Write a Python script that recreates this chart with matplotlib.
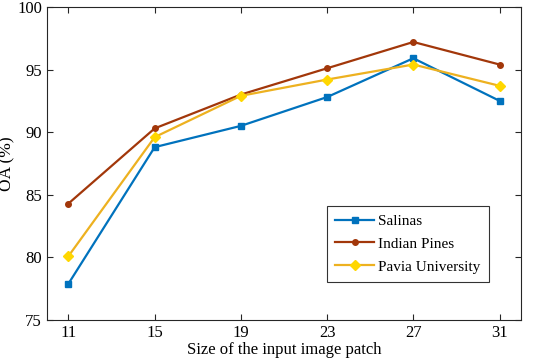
import numpy as np
import matplotlib
matplotlib.use('Agg')
import matplotlib.pyplot as plt

plt.rcParams['font.family'] = ['Liberation Serif', 'DejaVu Serif']

# patch sizes and overall accuracy (%)
patch = [11, 15, 19, 23, 27, 31]
salinas = [77.9, 88.8, 90.5, 92.8, 95.9, 92.5]
indian_pines = [84.3, 90.3, 93.0, 95.1, 97.2, 95.4]
pavia = [80.1, 89.6, 92.9, 94.2, 95.4, 93.7]
yticks = [75, 80, 85, 90, 95, 100]

fig = plt.figure(figsize=(5.52, 3.64), dpi=100)
ax = fig.add_axes([0.085, 0.121, 0.859, 0.86])

ax.plot(patch, salinas, color='#0072BD', lw=1.6, marker='s', ms=5,
        label='Salinas')
ax.plot(patch, indian_pines, color='#A2370A', lw=1.6, marker='o', ms=4,
        label='Indian Pines')
ax.plot(patch, pavia, color='#EDB120', lw=1.6, marker='D', ms=5.5,
        mfc='#FFD700', mec='#FFD700', label='Pavia University')

ax.set_xlim(10, 32)
ax.set_ylim(75, 100)
ax.set_xticks(patch)
ax.set_yticks(yticks)
ax.tick_params(direction='in', top=True, right=True, labelsize=12,
               length=4, color='#262626')
for s in ax.spines.values():
    s.set_color('#262626')
    s.set_linewidth(0.8)

ax.set_xlabel('Size of the input image patch', fontsize=12, labelpad=1)
ax.set_ylabel('OA (%)', fontsize=12.5)
ax.yaxis.set_label_coords(-0.066, 0.5)

leg = ax.legend(loc='lower right', bbox_to_anchor=(0.932, 0.121), fontsize=11,
                frameon=True, fancybox=False, edgecolor='black',
                borderaxespad=0, handlelength=2.5, borderpad=0.55,
                labelspacing=0.6, handletextpad=0.3)
leg.get_frame().set_linewidth(0.8)

fig.savefig('out.png', dpi=100)
